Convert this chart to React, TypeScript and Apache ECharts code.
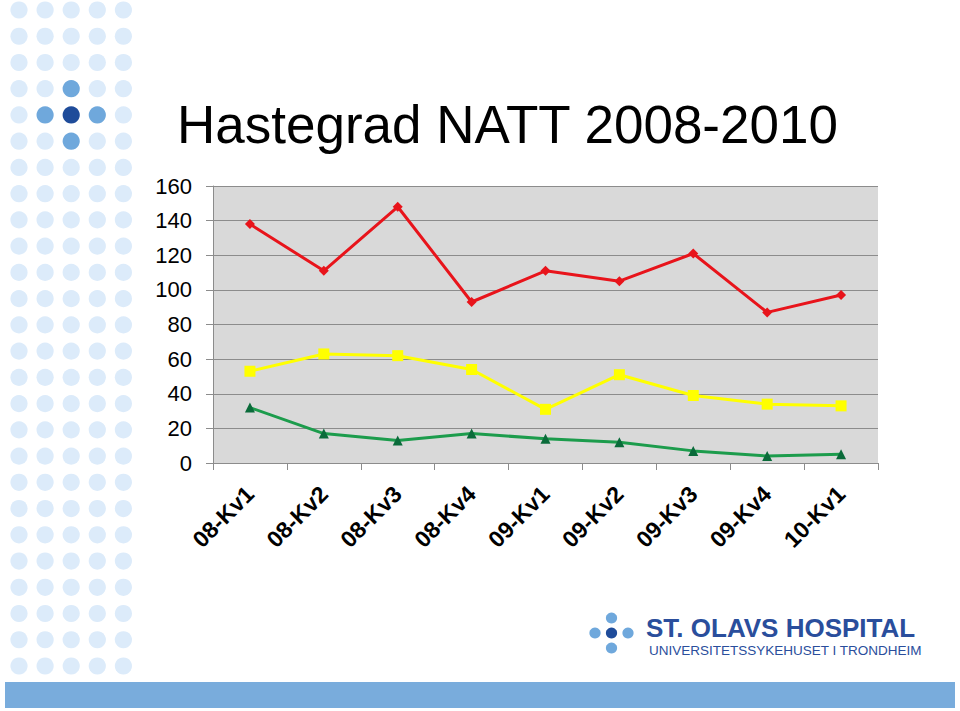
import React, { useEffect, useRef } from "react";
import * as echarts from "echarts";

const categories = ["08-Kv1", "08-Kv2", "08-Kv3", "08-Kv4", "09-Kv1", "09-Kv2", "09-Kv3", "09-Kv4", "10-Kv1"];
const redValues = [138, 111, 148, 93, 111, 105, 121, 87, 97];
const yellowValues = [53, 63, 62, 54, 31, 51, 39, 34, 33];
const greenValues = [32, 17, 13, 17, 14, 12, 7, 4, 5];
const yTicks = { min: 0, max: 160, interval: 20 };
const titleText = "Hastegrad NATT 2008-2010";
const logoTitle = "ST. OLAVS HOSPITAL";
const logoSub = "UNIVERSITETSSYKEHUSET I TRONDHEIM";

const FONT = "'Liberation Sans', Arial, sans-serif";

function buildDecor(): any[] {
  const els: any[] = [];
  const light = "#dcebfa";
  const mid = "#6fa8dc";
  const dark = "#1f4c9a";
  const special: Record<string, string> = {
    "2,3": mid,
    "1,4": mid,
    "2,4": dark,
    "3,4": mid,
    "2,5": mid,
  };
  for (let r = 0; r < 26; r++) {
    for (let c = 0; c < 5; c++) {
      els.push({
        type: "circle",
        silent: true,
        z: -10,
        shape: { cx: 19 + c * 26.1, cy: 10 + r * 26.24, r: 8.6 },
        style: { fill: special[c + "," + r] || light },
      });
    }
  }
  els.push({
    type: "rect",
    silent: true,
    z: -10,
    shape: { x: 5, y: 682, width: 950, height: 26 },
    style: { fill: "#79acdc" },
  });
  const logoDots = [
    [595, 633, mid],
    [611.5, 618, mid],
    [611.5, 633, dark],
    [628, 633, mid],
    [611.5, 648, mid],
  ];
  logoDots.forEach((d) => {
    els.push({
      type: "circle",
      silent: true,
      shape: { cx: d[0], cy: d[1], r: 5.6 },
      style: { fill: d[2] },
    });
  });
  els.push({
    type: "text",
    silent: true,
    x: 646,
    y: 628,
    style: {
      text: logoTitle,
      fill: "#2a4e9c",
      font: "bold 26px " + FONT,
      textVerticalAlign: "middle",
    },
  });
  els.push({
    type: "text",
    silent: true,
    x: 649,
    y: 650,
    style: {
      text: logoSub,
      fill: "#2a4e9c",
      font: "13.5px " + FONT,
      textVerticalAlign: "middle",
    },
  });
  els.push({
    type: "text",
    silent: true,
    x: 177,
    y: 124,
    style: {
      text: titleText,
      fill: "#000000",
      font: "53px " + FONT,
      textVerticalAlign: "middle",
    },
  });
  return els;
}

export default function App() {
  const ref = useRef<HTMLDivElement>(null);
  useEffect(() => {
    if (!ref.current) return;
    const chart = echarts.init(ref.current, null, { renderer: "svg" });
    chart.setOption({
      animation: false,
      backgroundColor: "#ffffff",
      textStyle: { fontFamily: FONT },
      graphic: buildDecor(),
      grid: {
        left: 213,
        right: 82,
        top: 186,
        bottom: 248,
        show: true,
        backgroundColor: "#d9d9d9",
        borderWidth: 0,
      },
      xAxis: {
        type: "category",
        data: categories,
        boundaryGap: true,
        axisLine: { show: true, lineStyle: { color: "#8c8c8c", width: 1 } },
        axisTick: { show: true, length: 7, lineStyle: { color: "#8c8c8c" } },
        axisLabel: {
          rotate: 45,
          interval: 0,
          margin: 27,
          color: "#000000",
          fontSize: 23,
          fontWeight: "bold",
          fontFamily: FONT,
        },
        splitLine: { show: false },
      },
      yAxis: {
        type: "value",
        min: yTicks.min,
        max: yTicks.max,
        interval: yTicks.interval,
        axisLine: { show: true, lineStyle: { color: "#8c8c8c", width: 1 } },
        axisTick: { show: true, length: 7, lineStyle: { color: "#8c8c8c" } },
        axisLabel: {
          color: "#000000",
          fontSize: 22,
          margin: 21,
          fontFamily: FONT,
        },
        splitLine: { show: true, lineStyle: { color: "#8c8c8c", width: 1 } },
      },
      series: [
        {
          type: "line",
          data: redValues,
          symbol: "diamond",
          symbolSize: 10,
          lineStyle: { color: "#e8141b", width: 3 },
          itemStyle: { color: "#e8141b" },
          z: 3,
        },
        {
          type: "line",
          data: yellowValues,
          symbol: "rect",
          symbolSize: 11,
          lineStyle: { color: "#ffff00", width: 3 },
          itemStyle: { color: "#ffff00" },
          z: 3,
        },
        {
          type: "line",
          data: greenValues,
          symbol: "triangle",
          symbolSize: 10,
          lineStyle: { color: "#1c9c4c", width: 3 },
          itemStyle: { color: "#0a6b3a" },
          z: 3,
        },
      ],
    });
    return () => chart.dispose();
  }, []);
  return (
    <div
      ref={ref}
      style={{ position: "absolute", left: 0, top: 0, width: 960, height: 711 }}
    />
  );
}
